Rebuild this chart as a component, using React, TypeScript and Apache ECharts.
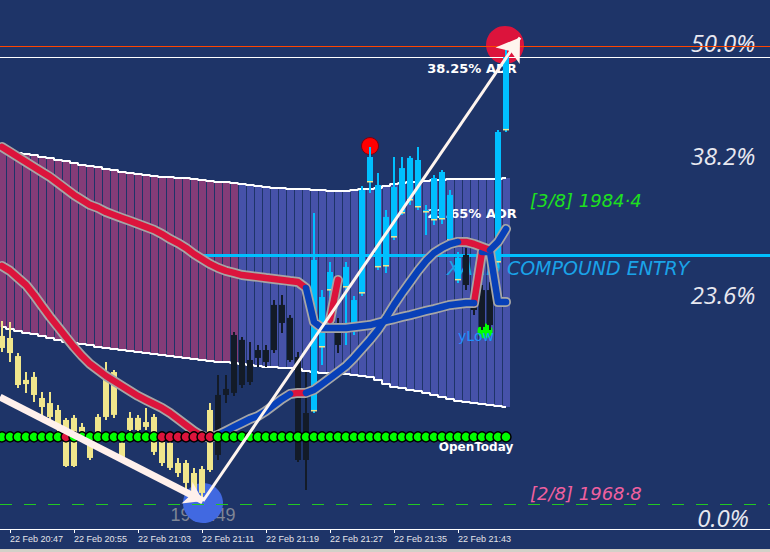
import React, { useEffect, useRef } from "react";
import * as echarts from "echarts";

// ---- time axis (1-minute bars, index 0 = 22 Feb 20:46) ----
const tickBars = [1, 9, 17, 25, 33, 41, 49, 57];
const tickLabels = ["22 Feb 20:47", "22 Feb 20:55", "22 Feb 21:03", "22 Feb 21:11", "22 Feb 21:19", "22 Feb 21:27", "22 Feb 21:35", "22 Feb 21:43"];

// ---- candles ----
const opens = [
  1977.73, 1977.62, 1976.66, 1975.39, 1975.55, 1974.43, 1974.16, 1973.79, 1973.26, 1973.37,
  1972.89, 1972.04, 1973.42, 1975.81, 1975.81, 1972.04, 1973.37, 1973.37, 1973.15, 1973.42,
  1972.09, 1972.04, 1970.97, 1970.97, 1970.44, 1970.65, 1970.6, 1971.4, 1974.59, 1974.7,
  1975.12, 1975.28, 1976.56, 1976.34, 1976.98, 1978.42, 1976.45, 1976.61, 1971.13, 1973.74,
  1977.14, 1980.17, 1977.25, 1980.33, 1978.05, 1980.01, 1985.92, 1981.4, 1981.45, 1982.99,
  1984.27, 1984.96, 1984.59, 1984.32, 1983.9, 1983.95, 1982.83, 1980.71, 1980.44, 1979.11,
  1978.21, 1978.31, 1981.66, 1988.69,
];
const highs = [
  1978.53, 1978.47, 1976.82, 1975.81, 1975.81, 1974.75, 1974.75, 1974.06, 1973.37, 1973.53,
  1973.1, 1972.2, 1973.58, 1976.34, 1975.92, 1972.3, 1973.69, 1973.53, 1973.9, 1973.58,
  1972.36, 1972.2, 1971.24, 1971.13, 1970.71, 1970.81, 1974.16, 1975.65, 1975.65, 1977.94,
  1977.67, 1977.41, 1977.25, 1977.25, 1979.64, 1979.91, 1978.84, 1976.88, 1975.81, 1984.27,
  1980.17, 1981.66, 1978.69, 1981.66, 1979.86, 1985.71, 1987.78, 1986.4, 1984.43, 1987.25,
  1987.25, 1987.3, 1987.78, 1984.7, 1986.29, 1986.56, 1985.49, 1982.2, 1982.41, 1980.71,
  1980.44, 1980.6, 1988.69, 1993.21,
];
const lows = [
  1976.88, 1976.34, 1974.96, 1974.7, 1974.22, 1973.42, 1973.26, 1972.36, 1970.76, 1970.76,
  1972.2, 1971.13, 1972.41, 1973.26, 1973.37, 1971.13, 1972.57, 1972.2, 1972.73, 1971.4,
  1970.81, 1970.6, 1970.23, 1969.54, 1969.27, 1969.16, 1970.49, 1971.13, 1974.16, 1974.54,
  1974.96, 1975.12, 1976.08, 1976.08, 1976.82, 1977.89, 1976.34, 1971.03, 1969.54, 1973.63,
  1976.19, 1978.95, 1976.82, 1977.25, 1977.78, 1979.86, 1985.33, 1981.24, 1981.08, 1982.83,
  1984.16, 1984.7, 1984.43, 1983.1, 1983.63, 1983.69, 1982.57, 1980.55, 1980.17, 1978.84,
  1978.05, 1978.05, 1981.35, 1988.58,
];
const closes = [
  1977.09, 1976.82, 1975.12, 1975.17, 1974.59, 1973.95, 1973.42, 1972.99, 1970.81, 1970.81,
  1972.46, 1971.24, 1972.57, 1973.42, 1973.53, 1971.29, 1972.73, 1972.73, 1972.89, 1971.56,
  1970.97, 1970.71, 1970.44, 1969.91, 1969.38, 1969.38, 1973.79, 1974.59, 1974.91, 1977.78,
  1977.52, 1976.45, 1976.98, 1976.98, 1979.38, 1979.38, 1978.69, 1971.13, 1973.63, 1981.77,
  1979.8, 1981.13, 1978.31, 1981.4, 1979.64, 1985.49, 1987.25, 1985.76, 1984.06, 1985.65,
  1986.66, 1987.2, 1987.09, 1984.43, 1986.13, 1986.45, 1985.23, 1981.88, 1982.04, 1980.17,
  1980.17, 1980.17, 1988.58, 1992.57,
];
// Y = bear (khaki), D = weak (dark), C = bull (cyan)
const candleKinds = [
  "Y", "Y", "Y", "Y", "Y", "Y", "Y", "Y", "Y", "Y",
  "Y", "Y", "Y", "Y", "Y", "Y", "Y", "Y", "Y", "Y",
  "Y", "Y", "Y", "Y", "Y", "Y", "Y", "D", "D", "D",
  "D", "D", "D", "D", "D", "D", "D", "D", "D", "C",
  "C", "C", "D", "C", "C", "C", "C", "C", "C", "C",
  "C", "C", "C", "C", "C", "C", "C", "C", "D", "D",
  "D", "D", "C", "C",
];

// ---- envelope band ----
const bandUpper = [
  1987.62, 1987.57, 1987.46, 1987.41, 1987.36, 1987.25, 1987.2, 1987.09, 1987.04, 1986.93,
  1986.82, 1986.77, 1986.72, 1986.61, 1986.56, 1986.45, 1986.4, 1986.34, 1986.29, 1986.24,
  1986.19, 1986.19, 1986.13, 1986.13, 1986.08, 1986.03, 1985.97, 1985.92, 1985.92, 1985.87,
  1985.81, 1985.76, 1985.71, 1985.65, 1985.6, 1985.6, 1985.55, 1985.55, 1985.55, 1985.49,
  1985.49, 1985.44, 1985.44, 1985.44, 1985.49, 1985.55, 1985.55, 1985.6, 1985.71, 1985.81,
  1985.87, 1985.92, 1985.92, 1985.97, 1986.03, 1986.03, 1986.08, 1986.08, 1986.08, 1986.08,
  1986.08, 1986.08, 1986.08, 1986.13,
];
const bandLower = [
  1978.21, 1978.1, 1977.99, 1977.89, 1977.83, 1977.73, 1977.62, 1977.52, 1977.41, 1977.36,
  1977.3, 1977.25, 1977.14, 1977.09, 1977.04, 1976.98, 1976.93, 1976.88, 1976.82, 1976.77,
  1976.72, 1976.66, 1976.61, 1976.56, 1976.5, 1976.45, 1976.4, 1976.34, 1976.34, 1976.29,
  1976.24, 1976.19, 1976.13, 1976.08, 1976.08, 1976.03, 1976.03, 1975.97, 1975.87, 1975.81,
  1975.76, 1975.76, 1975.76, 1975.71, 1975.65, 1975.6, 1975.55, 1975.39, 1975.17, 1975.01,
  1974.96, 1974.86, 1974.8, 1974.7, 1974.59, 1974.48, 1974.38, 1974.27, 1974.22, 1974.16,
  1974.11, 1974.06, 1974.0, 1973.95,
];
const bandPurpleBars = 30;

// ---- moving averages ----
const maFast = [
  1981.45, 1981.19, 1980.81, 1980.44, 1979.91, 1979.32, 1978.74, 1978.21, 1977.67, 1977.14,
  1976.66, 1976.24, 1975.92, 1975.6, 1975.33, 1975.07, 1974.8, 1974.54, 1974.32, 1974.11,
  1973.9, 1973.63, 1973.31, 1972.99, 1972.67, 1972.41, 1972.3, 1972.46, 1972.67, 1972.89,
  1973.1, 1973.31, 1973.47, 1973.74, 1974.06, 1974.38, 1974.64, 1974.7, 1974.7, 1974.86,
  1975.17, 1975.49, 1975.81, 1976.13, 1976.56, 1977.04, 1977.52, 1978.05, 1978.69, 1979.38,
  1980.01, 1980.6, 1981.19, 1981.72, 1982.14, 1982.41, 1982.62, 1982.73, 1982.73, 1982.62,
  1982.46, 1982.3, 1982.73, 1983.42,
];
const maSlow = [
  1987.78, 1987.52, 1987.25, 1986.98, 1986.72, 1986.45, 1986.19, 1985.87, 1985.55, 1985.23,
  1984.96, 1984.7, 1984.54, 1984.32, 1984.16, 1984.0, 1983.85, 1983.69, 1983.53, 1983.37,
  1983.15, 1982.89, 1982.67, 1982.41, 1982.09, 1981.82, 1981.56, 1981.35, 1981.19, 1981.08,
  1980.97, 1980.92, 1980.87, 1980.81, 1980.76, 1980.71, 1980.65, 1980.6, 1980.28, 1978.47,
  1978.15, 1978.15, 1978.15, 1978.15, 1978.21, 1978.26, 1978.31, 1978.42, 1978.53, 1978.63,
  1978.74, 1978.84, 1978.95, 1979.06, 1979.16, 1979.27, 1979.38, 1979.43, 1979.48, 1979.48,
  1982.2, 1982.2, 1979.54, 1979.54,
];
const maSlowSpike = [[41, 1978.58], [42, 1980.71]];
const fastRedRanges = [[0, 26], [36, 38], [57, 61]];
const fastBlueRanges = [[26, 36], [38, 57], [61, 63]];
const slowRedRanges = [[0, 38], [59, 60]];
const slowBlueRanges = [[38, 59], [60, 63]];

// ---- daily open dots ----
const openToday = 1972.36;
const dotColors = [
  "G", "G", "G", "G", "G", "G", "G", "G", "R", "G",
  "G", "G", "G", "G", "G", "G", "G", "G", "G", "G",
  "R", "R", "R", "R", "R", "R", "R", "G", "G", "G",
  "G", "G", "G", "G", "G", "G", "G", "G", "G", "G",
  "G", "G", "G", "G", "G", "G", "G", "G", "G", "G",
  "G", "G", "G", "G", "G", "G", "G", "G", "G", "G",
  "G", "G", "G", "G",
];

// ---- levels & annotations ----
const adrLevel = 1993.15;
const fib50Level = 1992.57;
const entryLevel = 1982.04;
const entryStartBar = 24.75;
const murrey28 = 1968.8;
const dayLow = 1967.49;
const trendDown = [[-0.25, 1974.48], [25.125, 1968.95]];
const adrArrow = [[25.125, 1968.95], [64.75, 1993.6]];
const lowMarker = [25.125, 1968.84];
const highMarker = [62.875, 1993.21];
const swingHigh = [46, 1987.83];
const yLowMarker = [60.375, 1977.99];

const Y_MIN = 1967.46;
const Y_MAX = 1995.6;

function rangeData(values: number[], r: number[]) {
  const out: number[][] = [];
  for (let i = r[0]; i <= r[1]; i++) out.push([i, values[i]]);
  return out;
}

export default function App() {
  const ref = useRef<HTMLDivElement>(null);

  useEffect(() => {
    const chart = echarts.init(ref.current!, null, { renderer: "svg" });
    const kindCode: Record<string, number> = { Y: 0, D: 1, C: 2 };
    const candleData = opens.map((o, i) => [i, o, closes[i], lows[i], highs[i], kindCode[candleKinds[i]]]);
    const bandData = bandUpper.map((u, i) => [i, u, bandLower[i]]);

    const RED = "#DC143C";
    const BLUE = "#0840B8";
    const GRAY = "#A6A6A6";

    const maSeries: any[] = [];
    const gray = (data: number[][]) => ({
      type: "line", data, z: 6, silent: true, showSymbol: false, symbol: "none",
      lineStyle: { color: GRAY, width: 10, cap: "round", join: "round" },
    });
    const colored = (data: number[][], color: string) => ({
      type: "line", data, z: 7, silent: true, showSymbol: false, symbol: "none",
      lineStyle: { color, width: 6.5, cap: "round", join: "round" },
    });
    maSeries.push(gray(maSlow.map((v, i) => [i, v])));
    maSeries.push(gray(maSlowSpike));
    maSeries.push(gray(maFast.map((v, i) => [i, v])));
    slowRedRanges.forEach((r) => maSeries.push(colored(rangeData(maSlow, r), RED)));
    slowBlueRanges.forEach((r) => maSeries.push(colored(rangeData(maSlow, r), BLUE)));
    maSeries.push(colored(maSlowSpike, RED));
    fastRedRanges.forEach((r) => maSeries.push(colored(rangeData(maFast, r), RED)));
    fastBlueRanges.forEach((r) => maSeries.push(colored(rangeData(maFast, r), BLUE)));

    const txt = (text: string, x: number, y: number, font: string, fill: string, align = "left", z = 3) => ({
      type: "text", x, y, z, silent: true,
      style: { text, font, fill, align, verticalAlign: "middle", textAlign: align, textVerticalAlign: "middle" },
    });

    const option: any = {
      animation: false,
      backgroundColor: "#1E3468",
      grid: { left: 0, right: 0, top: 0, bottom: 23 },
      xAxis: {
        type: "value", min: -0.25, max: 96,
        splitLine: { show: false },
        axisLine: { show: true, onZero: false, lineStyle: { color: "#FFFFFF", width: 1 } },
        axisTick: { show: true, customValues: tickBars, length: 4, lineStyle: { color: "#FFFFFF" } },
        axisLabel: {
          customValues: tickBars,
          formatter: (v: number) => { const k = tickBars.indexOf(Math.round(v)); return k >= 0 ? tickLabels[k] : ""; },
          color: "#E4E4E8", fontSize: 9, fontFamily: "Liberation Sans", align: "left", margin: 5,
        },
      },
      yAxis: { type: "value", min: Y_MIN, max: Y_MAX, show: false, splitLine: { show: false } },
      series: [
        {
          type: "custom", z: 1, silent: true, data: bandData, encode: { x: 0, y: [1, 2] },
          renderItem: (params: any, api: any) => {
            const i = api.value(0);
            const t = api.coord([i, api.value(1)]);
            const b = api.coord([i, api.value(2)]);
            const cx = Math.round(t[0]);
            return {
              type: "rect",
              shape: { x: cx - 3, y: t[1], width: 7, height: b[1] - t[1] },
              style: { fill: i < bandPurpleBars ? "#843C78" : "#4652A9" },
            };
          },
        },
        {
          type: "line", z: 2, silent: true, step: "middle", showSymbol: false, symbol: "none",
          data: bandUpper.map((v, i) => [i, v]), lineStyle: { color: "#FFFFFF", width: 2 },
        },
        {
          type: "line", z: 2, silent: true, step: "middle", showSymbol: false, symbol: "none",
          data: bandLower.map((v, i) => [i, v]), lineStyle: { color: "#FFFFFF", width: 2 },
        },
        {
          type: "line", z: 3, silent: true, data: [],
          markLine: {
            silent: true, symbol: ["none", "none"], label: { show: false },
            data: [
              { yAxis: adrLevel, lineStyle: { color: "#FF4500", width: 1, type: "solid" } },
              { yAxis: fib50Level, lineStyle: { color: "#FFFFFF", width: 1, type: "solid" } },
              [
                { coord: [entryStartBar, entryLevel], lineStyle: { color: "#00BFFF", width: 3, type: "solid" } },
                { coord: [96, entryLevel] },
              ],
              { yAxis: murrey28, lineStyle: { color: "#22C822", width: 1, type: [12, 12] } },
            ],
          },
        },
        {
          type: "scatter", z: 4, silent: true,
          data: [
            { value: lowMarker, symbolSize: 40, itemStyle: { color: "#4169E1", opacity: 1 } },
            { value: highMarker, symbolSize: 38, itemStyle: { color: "#DC143C", opacity: 1 } },
            { value: swingHigh, symbolSize: 17, itemStyle: { color: "#FF0000", borderColor: "#7A0010", borderWidth: 1, opacity: 1 } },
            { value: yLowMarker, symbolSize: 15, itemStyle: { color: "#00FF00", opacity: 1 } },
          ],
        },
        {
          type: "custom", z: 5, silent: true, data: candleData, encode: { x: 0, y: [1, 2, 3, 4] },
          renderItem: (params: any, api: any) => {
            const i = api.value(0);
            const o = api.value(1), c = api.value(2), l = api.value(3), h = api.value(4), k = api.value(5);
            const pTop = api.coord([i, Math.max(o, c)]);
            const pBot = api.coord([i, Math.min(o, c)]);
            const pH = api.coord([i, h]);
            const pL = api.coord([i, l]);
            const col = k === 0 ? "#F0E68C" : k === 1 ? "#131B28" : "#00BFFF";
            const x = Math.round(pTop[0]);
            const children: any[] = [
              { type: "rect", shape: { x: x - 1, y: pH[1], width: 2, height: Math.max(1, pL[1] - pH[1]) }, style: { fill: col } },
              { type: "rect", shape: { x: x - 3, y: pTop[1], width: 6, height: Math.max(1.5, pBot[1] - pTop[1]) }, style: { fill: col } },
            ];
            if (k === 2) {
              children.push({ type: "rect", shape: { x: x - 3, y: pBot[1] - 1, width: 6, height: 1.5 }, style: { fill: "#F0E68C" } });
            }
            return { type: "group", children };
          },
        },
        ...maSeries,
        {
          type: "scatter", z: 8, silent: true, symbolSize: 10,
          data: dotColors.map((c, i) => ({
            value: [i, openToday],
            itemStyle: { color: c === "R" ? "#DC143C" : "#00FF00", borderColor: "#000000", borderWidth: 1.5, opacity: 1 },
          })),
        },
        {
          type: "lines", coordinateSystem: "cartesian2d", z: 10, silent: true,
          symbol: ["none", "arrow"], symbolSize: 18,
          lineStyle: { color: "#FFF0EC", width: 7, opacity: 1 },
          data: [{ coords: trendDown }],
        },
        {
          type: "lines", coordinateSystem: "cartesian2d", z: 10, silent: true,
          symbol: ["none", "arrow"], symbolSize: 22,
          lineStyle: { color: "#FFF5EE", width: 3, opacity: 1 },
          data: [{ coords: adrArrow }],
        },
      ],
      graphic: [
        txt(dayLow.toFixed(2), 203, 515, '18px "Liberation Sans"', "#7F8696", "center", 3),
        txt("50.0%", 723, 42, 'italic 24px "Open Sans"', "#E8E8F0", "center"),
        txt("38.2%", 723, 155, 'italic 24px "Open Sans"', "#E8E8F0", "center"),
        txt("23.6%", 723, 294, 'italic 24px "Open Sans"', "#E8E8F0", "center"),
        txt("0.0%", 723, 517, 'italic 24px "Open Sans"', "#E8E8F0", "center"),
        txt("[3/8] " + "1984·4", 530, 200, 'italic 18px "DejaVu Sans"', "#1EE01E"),
        txt("[2/8] " + "1968·8", 530, 493, 'italic 18px "DejaVu Sans"', "#F0609F"),
        txt("XARD COMPOUND ENTRY", 447, 268, 'italic 19px "DejaVu Sans"', "#1AA3E8"),
        txt("38.25% ADR", 472, 68, 'bold 13px "DejaVu Sans"', "#FFFFFF", "center"),
        txt("23.65% ADR", 472, 213, 'bold 13px "DejaVu Sans"', "#FFFFFF", "center"),
        txt("OpenToday", 476, 447, 'bold 12px "DejaVu Sans"', "#FFFFFF", "center"),
        txt("yLow", 476, 336, '14px "DejaVu Sans"', "#1E90FF", "center", 20),
        { type: "rect", z: 30, silent: true, shape: { x: 0, y: 549, width: 770, height: 3 }, style: { fill: "#D4D0C8" } },
      ],
    };

    chart.setOption(option);
    return () => chart.dispose();
  }, []);

  return <div ref={ref} style={{ position: "absolute", left: 0, top: 0, width: 770, height: 552 }} />;
}
